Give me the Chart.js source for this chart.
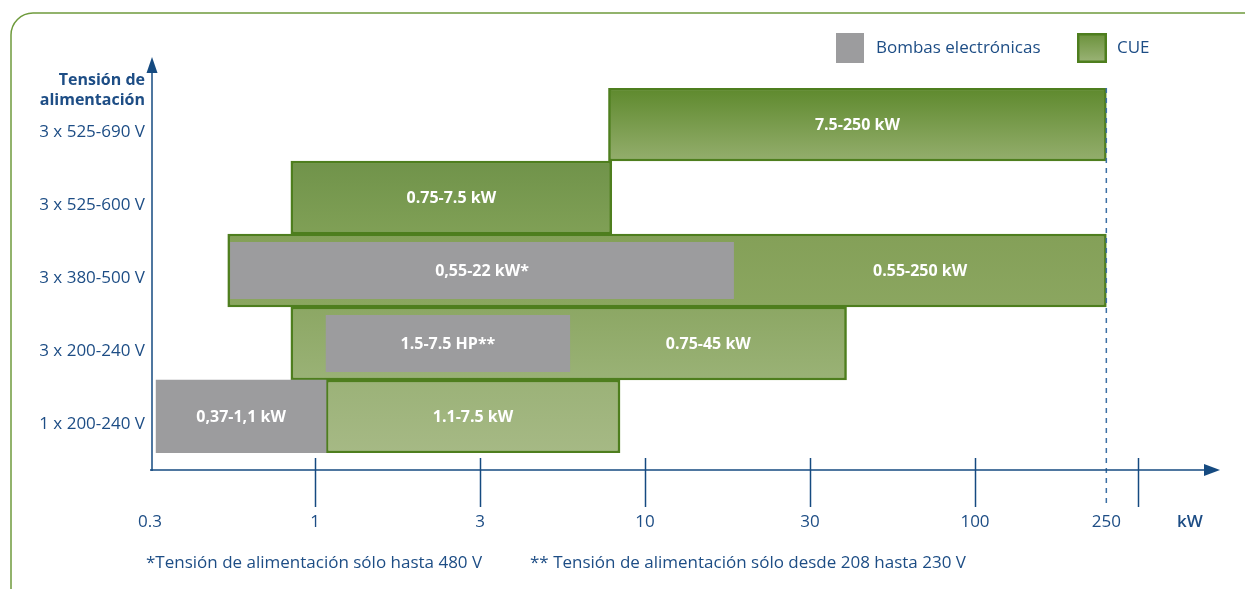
<!DOCTYPE html>
<html>
<head>
<meta charset="utf-8">
<script src="https://cdn.jsdelivr.net/npm/chart.js@4.4.1/dist/chart.umd.min.js"></script>
<style>
html,body{margin:0;padding:0;background:#fff;}
canvas{display:block;}
</style>
</head>
<body>
<canvas id="c" width="1245" height="589"></canvas>
<script>
// ---- data ----
const categories = ['3 x 525-690 V', '3 x 525-600 V', '3 x 380-500 V', '3 x 200-240 V', '1 x 200-240 V'];
const cueRanges = [[7.75, 250], [0.845, 7.93], [0.544, 250], [0.845, 40.8], [1.08, 8.4]];
const cueLabels = ['7.5-250 kW', '0.75-7.5 kW', '0.55-250 kW', '0.75-45 kW', '1.1-7.5 kW'];
const bombasRanges = [null, null, [0.553, 18.6], [1.078, 5.93], [0.33, 1.08]];
const bombasLabels = [null, null, '0,55-22 kW*', '1.5-7.5 HP**', '0,37-1,1 kW'];
const tickValues = [0.31623, 1, 3.1623, 10, 31.623, 100, 250];
const tickLabels = ['0.3', '1', '3', '10', '30', '100', '250'];
const extraTickValues = [312];
const footnotes = ['*Tensión de alimentación sólo hasta 480 V', '** Tensión de alimentación sólo desde 208 hasta 230 V'];
const legendLabels = ['Bombas electrónicas', 'CUE'];
const yTitle = ['Tensión de', 'alimentación'];
const unitLabel = 'kW';

// ---- styles ----
const bombasFullRow = [false, false, false, false, true];
const cueTop = ['#5e892d', '#70934a', '#84a058', '#8ca764', '#9bb278'];
const cueBottom = ['#94ae6d', '#80a056', '#8ba660', '#9ab276', '#a6b985'];
const GREEN_BORDER = '#4e7e1e';
const GRAY = '#9c9c9e';
const BLUE = '#154a80';
const TEXT = '#1d4d85';
const FONT = "'Open Sans', 'Noto Sans', sans-serif";
const TXT_SIZE = 17;
const X_MIN = Math.pow(10, -0.5);
const X_MAX = Math.pow(10, 2.7424);

const grayInner = bombasRanges.map((r, i) => bombasFullRow[i] ? null : r);
const grayFull = bombasRanges.map((r, i) => bombasFullRow[i] ? r : null);

function cueFill(ctx) {
  const chart = ctx.chart;
  const area = chart.chartArea;
  if (!area || ctx.type !== 'data' || !chart.scales.y) return cueTop[2];
  const i = ctx.dataIndex;
  const c = chart.scales.y.getPixelForValue(i);
  const h = area.height / categories.length;
  const g = chart.ctx.createLinearGradient(0, c - h / 2, 0, c + h / 2);
  g.addColorStop(0, cueTop[i]);
  g.addColorStop(1, cueBottom[i]);
  return g;
}

const decor = {
  id: 'decor',
  beforeDraw(chart) {
    const c = chart.ctx;
    c.save();
    c.strokeStyle = '#6f9b3d';
    c.lineWidth = 1.5;
    const r = 22, x0 = 11, y0 = 13;
    c.beginPath();
    c.moveTo(x0, 620);
    c.lineTo(x0, y0 + r);
    c.arcTo(x0, y0, x0 + r, y0, r);
    c.lineTo(1300, y0);
    c.stroke();
    c.restore();
  },
  afterDatasetsDraw(chart) {
    const c = chart.ctx;
    const area = chart.chartArea;
    const xs = chart.scales.x;
    const metaCue = chart.getDatasetMeta(0);
    const metaIn = chart.getDatasetMeta(1);
    const metaFull = chart.getDatasetMeta(2);
    c.save();
    c.fillStyle = '#ffffff';
    c.font = "bold 16px " + FONT;
    c.textAlign = 'center';
    c.textBaseline = 'middle';
    const grayEl = (i) => (grayInner[i] ? metaIn.data[i] : (grayFull[i] ? metaFull.data[i] : null));
    categories.forEach((cat, i) => {
      const el = metaCue.data[i];
      if (el && cueRanges[i]) {
        let l = Math.min(el.x, el.base), r = Math.max(el.x, el.base);
        const g = grayEl(i);
        if (g) l = Math.max(l, Math.max(g.x, g.base));
        c.fillText(cueLabels[i], (l + r) / 2, el.y + 1);
      }
      const g = grayEl(i);
      if (g && bombasLabels[i]) {
        const l = Math.min(g.x, g.base), r = Math.max(g.x, g.base);
        c.fillText(bombasLabels[i], (l + r) / 2, g.y + 1);
      }
    });
    const x250 = xs.getPixelForValue(250);
    c.strokeStyle = '#3b6fa5';
    c.lineWidth = 1.5;
    c.setLineDash([5, 5]);
    c.beginPath();
    c.moveTo(x250, area.top);
    c.lineTo(x250, 507);
    c.stroke();
    c.setLineDash([]);
    c.restore();
  },
  afterDraw(chart) {
    const c = chart.ctx;
    const area = chart.chartArea;
    const xs = chart.scales.x;
    const axY = area.bottom + 17;
    const axX = area.left + 2;
    c.save();
    c.strokeStyle = BLUE;
    c.fillStyle = BLUE;
    c.lineWidth = 1.5;
    c.beginPath();
    c.moveTo(area.left, axY);
    c.lineTo(area.right - 14, axY);
    c.stroke();
    c.beginPath();
    c.moveTo(area.right, axY);
    c.lineTo(area.right - 16, axY - 6);
    c.lineTo(area.right - 16, axY + 6);
    c.closePath();
    c.fill();
    c.beginPath();
    c.moveTo(axX, axY + 1);
    c.lineTo(axX, 70);
    c.stroke();
    c.beginPath();
    c.moveTo(axX, 57);
    c.lineTo(axX - 5.5, 73);
    c.lineTo(axX + 5.5, 73);
    c.closePath();
    c.fill();
    const marks = tickValues.slice(1, tickValues.length - 1).concat(extraTickValues);
    marks.forEach(v => {
      const px = Math.round(xs.getPixelForValue(v)) + 0.5;
      c.beginPath();
      c.moveTo(px, 458);
      c.lineTo(px, 507);
      c.stroke();
    });
    c.fillStyle = TEXT;
    c.font = "bold 16px " + FONT;
    c.textAlign = 'right';
    c.textBaseline = 'middle';
    c.fillText(yTitle[0], 145, 80);
    c.fillText(yTitle[1], 145, 100);
    c.font = "600 " + TXT_SIZE + "px " + FONT;
    c.textAlign = 'center';
    c.fillText(unitLabel, 1190, 522);
    c.font = TXT_SIZE + "px " + FONT;
    c.textAlign = 'left';
    c.fillText(footnotes[0], 146, 563);
    c.fillText(footnotes[1], 530, 563);
    c.fillStyle = GRAY;
    c.fillRect(836, 33, 28, 30);
    const lg = c.createLinearGradient(0, 33, 0, 63);
    lg.addColorStop(0, '#6a913a');
    lg.addColorStop(1, '#9cb478');
    c.fillStyle = lg;
    c.fillRect(1077, 33, 30, 30);
    c.strokeStyle = GREEN_BORDER;
    c.lineWidth = 2.5;
    c.strokeRect(1078.25, 34.25, 27.5, 27.5);
    c.fillStyle = TEXT;
    c.font = TXT_SIZE + "px " + FONT;
    c.fillText(legendLabels[0], 876, 48);
    c.fillText(legendLabels[1], 1117, 48);
    c.restore();
  }
};

new Chart(document.getElementById('c'), {
  type: 'bar',
  data: {
    labels: categories,
    datasets: [
      {
        label: legendLabels[1],
        data: cueRanges,
        backgroundColor: cueFill,
        borderColor: GREEN_BORDER,
        borderWidth: 2.5,
        borderSkipped: false,
        barPercentage: 1,
        categoryPercentage: 1,
        grouped: false,
        order: 3
      },
      {
        label: legendLabels[0],
        data: grayInner,
        backgroundColor: GRAY,
        borderWidth: 0,
        barPercentage: 0.78,
        categoryPercentage: 1,
        grouped: false,
        order: 2
      },
      {
        label: legendLabels[0],
        data: grayFull,
        backgroundColor: GRAY,
        borderWidth: 0,
        barPercentage: 1,
        categoryPercentage: 1,
        grouped: false,
        order: 1
      }
    ]
  },
  options: {
    indexAxis: 'y',
    responsive: false,
    animation: false,
    layout: { padding: { top: 88, right: 25, left: 0, bottom: 0 } },
    plugins: { legend: { display: false }, tooltip: { enabled: false } },
    scales: {
      x: {
        type: 'logarithmic',
        min: X_MIN,
        max: X_MAX,
        bounds: 'data',
        grid: { display: false, drawTicks: false },
        border: { display: false },
        afterBuildTicks(scale) {
          scale.ticks = tickValues.map(v => ({ value: v }));
          scale.min = X_MIN;
          scale.max = X_MAX;
        },
        afterFit(scale) { scale.height = 136; scale.paddingLeft = 0; scale.paddingRight = 0; },
        ticks: {
          autoSkip: false,
          maxRotation: 0,
          padding: 59,
          color: TEXT,
          font: { family: FONT, size: TXT_SIZE },
          callback: (v, i) => tickLabels[i]
        }
      },
      y: {
        type: 'category',
        grid: { display: false, drawTicks: false },
        border: { display: false },
        afterFit(scale) { scale.width = 150; },
        ticks: {
          padding: 5,
          labelOffset: 8,
          color: TEXT,
          font: { family: FONT, size: TXT_SIZE }
        }
      }
    }
  },
  plugins: [decor]
});
</script>
</body>
</html>
